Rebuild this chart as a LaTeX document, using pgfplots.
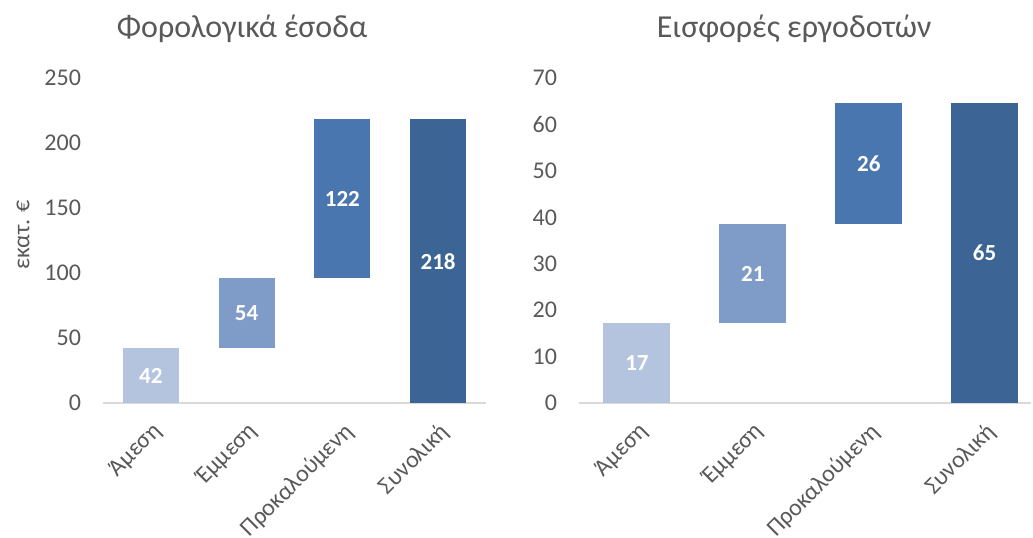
\documentclass[border=0pt]{standalone}
\usepackage{fontspec}
\setmainfont{Carlito}
\usepackage{pgfplots}
\pgfplotsset{compat=1.18}
\definecolor{c1}{HTML}{B4C4DF}
\definecolor{c2}{HTML}{7F9CC8}
\definecolor{c3}{HTML}{4A76AF}
\definecolor{c4}{HTML}{3C6494}
\definecolor{txt}{HTML}{595959}
\definecolor{axl}{HTML}{D9D9D9}

\pgfplotsset{
  geomL/.style={scale only axis, at={(51.5pt,67pt)}, anchor=south west,
    width=191.5pt, height=162.5pt, xmin=-0.5, xmax=3.5, ymin=0, ymax=250},
  geomR/.style={scale only axis, at={(289.5pt,67pt)}, anchor=south west,
    width=226pt, height=162.5pt, xmin=-0.5, xmax=3.4, ymin=0, ymax=70},
  wf/.style={
    ybar stacked,
    axis x line*=bottom, axis y line*=left,
    y axis line style={draw=none},
    x axis line style={axl, line width=1pt},
    major tick length=0pt,
    xtick={0,1,2,3},
    xticklabels={Άμεση,Έμμεση,Προκαλούμενη,Συνολική},
    x tick label style={rotate=45, anchor=north east, font=\fontsize{12}{14}\selectfont, text=txt},
    xticklabel shift=4pt,
    y tick label style={font=\fontsize{12}{14}\selectfont, text=txt, xshift=-7.5pt},
    /pgf/number format/assume math mode=true,
    title style={font=\fontsize{16}{19}\selectfont, text=txt, anchor=center},
  },
  % overlay axis for the value labels, set at the middle of each bar
  lbl/.style={hide axis, clip=false},
  lblplot/.style={only marks, mark=none, nodes near coords, point meta=explicit symbolic,
    every node near coord/.append style={anchor=center, text=white,
      font=\fontsize{11.5}{14}\selectfont\bfseries}},
}

\begin{document}
\begin{tikzpicture}
\useasboundingbox (0pt,0pt) rectangle (516.5pt,268.5pt);
\begin{axis}[geomL, wf, ytick={0,50,...,250}, bar width=28pt,
  title={Φορολογικά έσοδα}, title style={at={(rel axis cs:0.363,1)}, yshift=18.5pt},
  ylabel={εκατ. €}, ylabel style={at={([xshift=-40pt]rel axis cs:0,0.517)}, anchor=center,
    font=\fontsize{12}{14}\selectfont, text=txt}]
  \addplot[draw=none, fill=none] coordinates {(0,0) (1,42.2) (2,96.2) (3,0)};
  \addplot[draw=none, fill=c1] coordinates {(0,42.2) (1,0) (2,0) (3,0)};
  \addplot[draw=none, fill=c2] coordinates {(0,0) (1,54) (2,0) (3,0)};
  \addplot[draw=none, fill=c3] coordinates {(0,0) (1,0) (2,122) (3,0)};
  \addplot[draw=none, fill=c4] coordinates {(0,0) (1,0) (2,0) (3,218.2)};
\end{axis}
\begin{axis}[geomL, lbl]
  \addplot[lblplot] coordinates {(0,21.1) [42] (1,69.2) [54] (2,157.2) [122] (3,109.1) [218]};
\end{axis}
\begin{axis}[geomR, wf, ytick={0,10,...,70}, bar width=33.5pt,
  title={Εισφορές εργοδοτών}, title style={at={(rel axis cs:0.476,1)}, yshift=18.5pt}]
  \addplot[draw=none, fill=none] coordinates {(0,0) (1,17.2) (2,38.6) (3,0)};
  \addplot[draw=none, fill=c1] coordinates {(0,17.2) (1,0) (2,0) (3,0)};
  \addplot[draw=none, fill=c2] coordinates {(0,0) (1,21.4) (2,0) (3,0)};
  \addplot[draw=none, fill=c3] coordinates {(0,0) (1,0) (2,26) (3,0)};
  \addplot[draw=none, fill=c4] coordinates {(0,0) (1,0) (2,0) (3,64.6)};
\end{axis}
\begin{axis}[geomR, lbl]
  \addplot[lblplot] coordinates {(0,8.6) [17] (1,27.9) [21] (2,51.6) [26] (3,32.3) [65]};
\end{axis}
\end{tikzpicture}
\end{document}
